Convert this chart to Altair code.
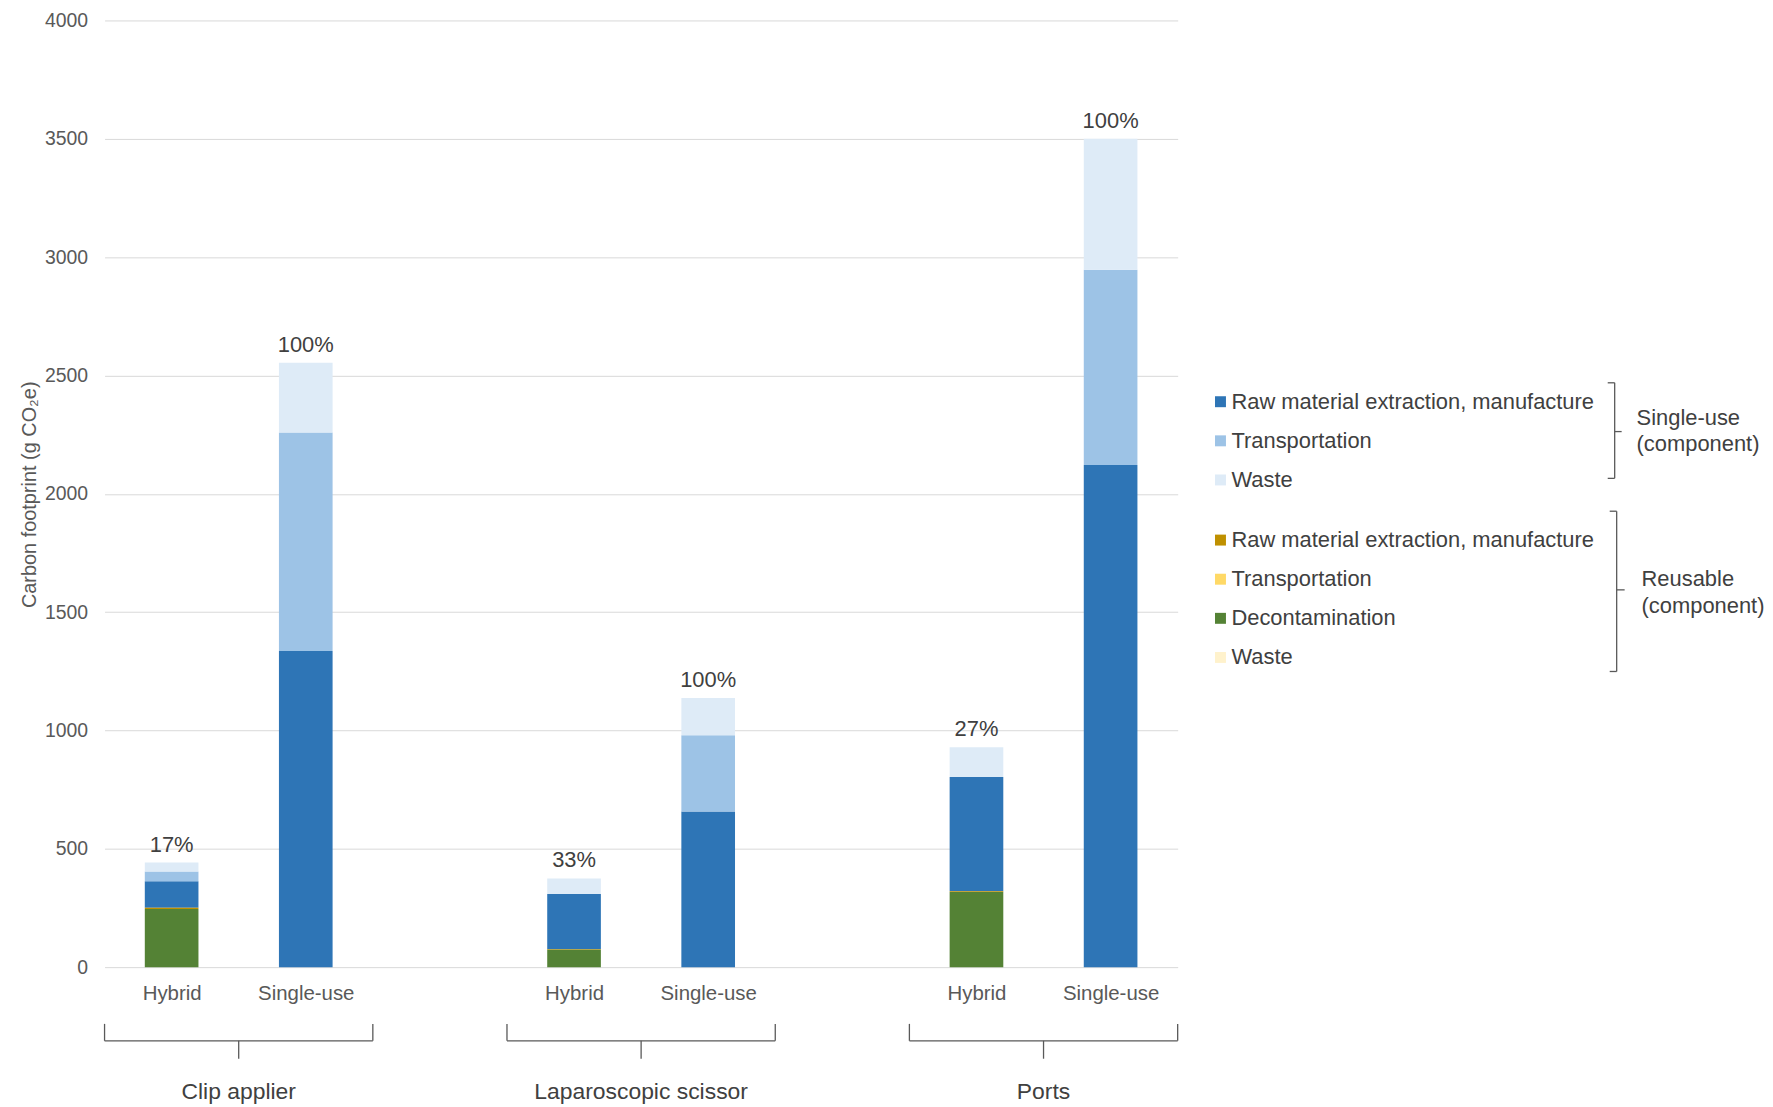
import altair as alt
import pandas as pd

# ---------------- data ----------------
devices = ["Clip applier", "Clip applier", "Laparoscopic scissor", "Laparoscopic scissor", "Ports", "Ports"]
types = ["Hybrid", "Single-use", "Hybrid", "Single-use", "Hybrid", "Single-use"]
slots = [0, 1, 3, 4, 6, 7]
pct_labels = ["17%", "100%", "33%", "100%", "27%", "100%"]

# single-use component
su_raw = [112, 1336, 232, 658, 482, 2122]
su_transport = [41, 923, 0, 322, 0, 825]
su_waste = [38, 295, 66, 157, 126, 553]
# reusable component
re_raw = [5, 0, 2, 0, 4, 0]
re_transport = [0, 0, 0, 0, 0, 0]
re_decon = [246, 0, 75, 0, 317, 0]
re_waste = [0, 0, 0, 0, 0, 0]

su_components = ["Raw material extraction, manufacture", "Transportation", "Waste"]
su_colors = ["#2e75b6", "#9dc3e6", "#deebf7"]
re_components = ["Raw material extraction, manufacture", "Transportation", "Decontamination", "Waste"]
re_colors = ["#bf9000", "#ffd966", "#548235", "#fff2cc"]

y_ticks = [0, 500, 1000, 1500, 2000, 2500, 3000, 3500, 4000]

rows = []
for i in range(len(slots)):
    stack = [
        ("re", "Decontamination", re_decon[i]),
        ("re", "Raw material extraction, manufacture", re_raw[i]),
        ("re", "Transportation", re_transport[i]),
        ("re", "Waste", re_waste[i]),
        ("su", "Raw material extraction, manufacture", su_raw[i]),
        ("su", "Transportation", su_transport[i]),
        ("su", "Waste", su_waste[i]),
    ]
    for k, (g, c, v) in enumerate(stack):
        rows.append({"slot": slots[i], "device": devices[i], "type": types[i],
                     "pct": pct_labels[i], "group": g, "component": c,
                     "order": k, "value": v})
df = pd.DataFrame(rows)

FONT = "Liberation Sans"
TXT = "#404040"
TICK = "#595959"

x_scale = alt.Scale(domain=[-0.5, 7.5], nice=False, zero=False)
y_scale = alt.Scale(domain=[0, 4000], nice=False)

label_expr = ("[" + ",".join("'%s'" % t for t in types) + "][indexof(["
              + ",".join(str(s) for s in slots) + "], datum.value)]")

x_axis = alt.Axis(values=slots, labelExpr=label_expr, grid=False, ticks=False,
                  tickSize=0, domain=False, labelFontSize=20.5, labelColor=TICK,
                  labelFont=FONT, labelPadding=17, title=None)
y_axis = alt.Axis(values=y_ticks, format="d", grid=True, gridColor="#d9d9d9", gridWidth=1,
                  domain=False, ticks=False, tickSize=0, labelFontSize=19.5,
                  labelColor=TICK, labelFont=FONT, labelPadding=17,
                  title="Carbon footprint (g CO₂e)", titleFontSize=20,
                  titleFont=FONT, titleColor=TICK, titleFontWeight="normal",
                  titleX=-75, titleY=476, titleAlign="center", titleBaseline="middle")

base = (alt.Chart(df)
        .transform_stack(stack="value", groupby=["slot"], as_=["v0", "v1"],
                         sort=[alt.SortField("order", order="ascending")])
        .transform_filter(alt.datum.value > 0)
        .transform_calculate(xa="datum.slot - 0.2", xb="datum.slot + 0.2"))

legend_common = dict(orient="none", title=None, symbolType="square", symbolSize=121,
                     symbolStrokeWidth=0, labelFont=FONT, labelFontSize=22,
                     labelColor=TXT, labelLimit=0, labelOffset=0, rowPadding=17.3,
                     padding=0)

su_bars = base.transform_filter(alt.datum.group == "su").mark_bar().encode(
    x=alt.X("xa:Q", scale=x_scale, axis=x_axis),
    x2="xb:Q",
    y=alt.Y("v0:Q", scale=y_scale, axis=y_axis),
    y2="v1:Q",
    color=alt.Color("component:N",
                    scale=alt.Scale(domain=su_components, range=su_colors),
                    legend=alt.Legend(legendX=1110, legendY=372, **legend_common)),
)

re_bars = base.transform_filter(alt.datum.group == "re").mark_bar().encode(
    x=alt.X("xa:Q", scale=x_scale),
    x2="xb:Q",
    y=alt.Y("v0:Q", scale=y_scale),
    y2="v1:Q",
    fill=alt.Fill("component:N",
                  scale=alt.Scale(domain=re_components, range=re_colors),
                  legend=alt.Legend(legendX=1110, legendY=511, **legend_common)),
)

pct_text = (alt.Chart(df)
            .transform_aggregate(total="sum(value)", groupby=["slot", "pct"])
            .mark_text(font=FONT, fontSize=22, color=TXT, baseline="alphabetic", dy=-11)
            .encode(x=alt.X("slot:Q", scale=x_scale), y=alt.Y("total:Q", scale=y_scale),
                    text="pct:N"))

grp = (alt.Chart(df)
       .transform_aggregate(lo="min(slot)", hi="max(slot)", groupby=["device"])
       .transform_calculate(lo2="datum.lo - 0.5", hi2="datum.hi + 0.5",
                            mid="(datum.lo + datum.hi) / 2"))

cat_text = grp.mark_text(font=FONT, fontSize=23, color=TXT, baseline="alphabetic").encode(
    x=alt.X("mid:Q", scale=x_scale), y=alt.value(1083), text="device:N")

BR = dict(color="#595959", strokeWidth=1.3)
br_h = grp.mark_rule(**BR).encode(x=alt.X("lo2:Q", scale=x_scale), x2="hi2:Q", y=alt.value(1025))
br_l = grp.mark_rule(**BR).encode(x=alt.X("lo2:Q", scale=x_scale), y=alt.value(1008), y2=alt.value(1025))
br_r = grp.mark_rule(**BR).encode(x=alt.X("hi2:Q", scale=x_scale), y=alt.value(1008), y2=alt.value(1025))
br_t = grp.mark_rule(**BR).encode(x=alt.X("mid:Q", scale=x_scale), y=alt.value(1025), y2=alt.value(1043))

one = pd.DataFrame({"k": [0]})


def seg(x1, y1, x2, y2):
    return alt.Chart(one).mark_rule(**BR).encode(
        x=alt.value(x1), x2=alt.value(x2), y=alt.value(y1), y2=alt.value(y2))


def label(txt, x, y):
    return alt.Chart(one).mark_text(font=FONT, fontSize=22, color=TXT, align="left",
                                    baseline="middle").encode(
        x=alt.value(x), y=alt.value(y), text=alt.value(txt))


braces = [
    # single-use brace
    seg(1517, 364, 1517, 460), seg(1510, 364, 1517, 364), seg(1510, 460, 1517, 460),
    seg(1517, 413, 1524, 413),
    # reusable brace
    seg(1519, 493, 1519, 654), seg(1512, 493, 1519, 493), seg(1512, 654, 1519, 654),
    seg(1519, 572, 1527, 572),
]
group_labels = [
    label("Single-use", 1539, 399), label("(component)", 1539, 426),
    label("Reusable", 1544, 561), label("(component)", 1544, 588),
]

chart = alt.layer(su_bars, re_bars, pct_text, cat_text, br_h, br_l, br_r, br_t,
                  *braces, *group_labels).resolve_scale(color="independent", fill="independent").properties(
    width=1078, height=951,
    autosize=alt.AutoSizeParams(type="none"),
    padding={"left": 97, "top": 10, "right": 590, "bottom": 140},
    background="white",
).configure_view(stroke=None)

chart.save("out.html", embed_options={"renderer": "svg", "actions": False})
